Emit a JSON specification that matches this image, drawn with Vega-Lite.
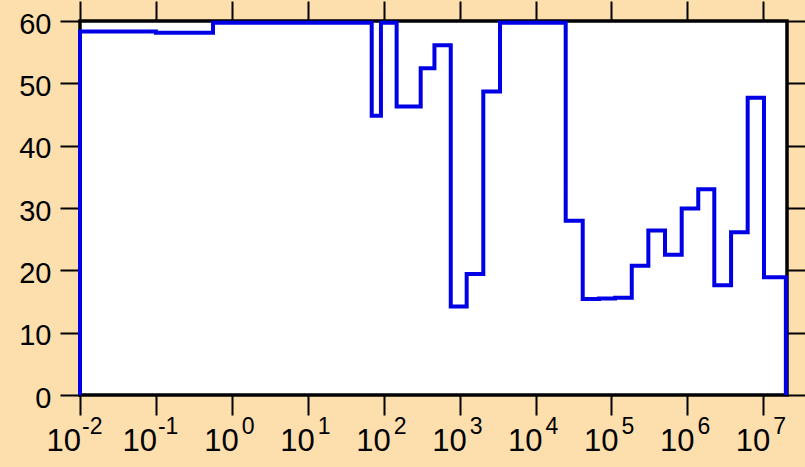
{
  "$schema": "https://vega.github.io/schema/vega-lite/v6.json",
  "autosize": "none",
  "width": 707,
  "height": 374,
  "padding": {"left": 80, "top": 21, "right": 18, "bottom": 72},
  "background": "#FDDEAD",
  "config": {
    "view": {"stroke": "black", "strokeWidth": 3.5, "fill": "white"},
    "axis": {"grid": false, "domain": false, "tickColor": "black", "tickWidth": 2, "tickSize": 20, "labelColor": "black", "labelFont": "Liberation Sans", "title": null},
    "text": {"font": "Liberation Sans", "color": "black", "baseline": "alphabetic"}
  },
  "datasets": {
    "curve": [
      {"x": 0.01, "y": 0},
      {"x": 0.01, "y": 58.3},
      {"x": 0.1, "y": 58.1},
      {"x": 0.565, "y": 59.7},
      {"x": 69.5, "y": 44.8},
      {"x": 92, "y": 59.7},
      {"x": 148, "y": 46.3},
      {"x": 307, "y": 52.4},
      {"x": 466, "y": 56.1},
      {"x": 764, "y": 14.2},
      {"x": 1238, "y": 19.4},
      {"x": 2050, "y": 48.7},
      {"x": 3404, "y": 59.7},
      {"x": 24950, "y": 27.95},
      {"x": 41800, "y": 15.4},
      {"x": 68600, "y": 15.5},
      {"x": 111500, "y": 15.6},
      {"x": 185000, "y": 20.75},
      {"x": 306000, "y": 26.4},
      {"x": 507000, "y": 22.5},
      {"x": 841000, "y": 29.9},
      {"x": 1390000, "y": 33.0},
      {"x": 2260000, "y": 17.6},
      {"x": 3760000, "y": 26.1},
      {"x": 6220000, "y": 47.7},
      {"x": 10200000, "y": 18.9},
      {"x": 19800000, "y": 0}
    ],
    "ticklabels": [
      {"t": 0.01, "base": "10", "e": "-2"},
      {"t": 0.1, "base": "10", "e": "-1"},
      {"t": 1, "base": "10", "e": "0"},
      {"t": 10, "base": "10", "e": "1"},
      {"t": 100, "base": "10", "e": "2"},
      {"t": 1000, "base": "10", "e": "3"},
      {"t": 10000, "base": "10", "e": "4"},
      {"t": 100000, "base": "10", "e": "5"},
      {"t": 1000000, "base": "10", "e": "6"},
      {"t": 10000000, "base": "10", "e": "7"}
    ]
  },
  "layer": [
    {
      "data": {"name": "curve"},
      "mark": {"type": "line", "interpolate": "step-after", "color": "#0000E6", "strokeWidth": 4, "strokeJoin": "miter", "clip": false},
      "encoding": {
        "x": {
          "field": "x", "type": "quantitative",
          "scale": {"type": "log", "domain": [0.01, 20500000], "nice": false},
          "axis": {
            "orient": "bottom",
            "values": [0.01, 0.1, 1, 10, 100, 1000, 10000, 100000, 1000000, 10000000],
            "labels": false
          }
        },
        "y": {
          "field": "y", "type": "quantitative",
          "scale": {"domain": [0, 60], "nice": false},
          "axis": {"orient": "left", "values": [0, 10, 20, 30, 40, 50, 60], "labelFontSize": 29, "labelPadding": 9, "labelOffset": 3, "labelFlush": false}
        }
      }
    },
    {
      "data": {"name": "curve"},
      "mark": {"type": "rule", "opacity": 0},
      "encoding": {
        "x": {"field": "x", "type": "quantitative", "axis": {"orient": "top", "values": [0.01, 0.1, 1, 10, 100, 1000, 10000, 100000, 1000000, 10000000], "labels": false}},
        "y": {"field": "y", "type": "quantitative", "axis": {"orient": "right", "values": [0, 10, 20, 30, 40, 50, 60], "labels": false}}
      }
    },
    {
      "data": {"name": "ticklabels"},
      "transform": [{"filter": "datum.t < 0.5"}],
      "mark": {"type": "text", "align": "right", "dx": 1, "dy": 56, "fontSize": 31, "clip": false},
      "encoding": {
        "x": {"field": "t", "type": "quantitative", "axis": null},
        "y": {"datum": 0, "type": "quantitative", "axis": null},
        "text": {"field": "base"}
      }
    },
    {
      "data": {"name": "ticklabels"},
      "transform": [{"filter": "datum.t > 0.5"}],
      "mark": {"type": "text", "align": "right", "dx": 7, "dy": 56, "fontSize": 31, "clip": false},
      "encoding": {
        "x": {"field": "t", "type": "quantitative", "axis": null},
        "y": {"datum": 0, "type": "quantitative", "axis": null},
        "text": {"field": "base"}
      }
    },
    {
      "data": {"name": "ticklabels"},
      "transform": [{"filter": "datum.t < 0.5"}],
      "mark": {"type": "text", "align": "left", "dx": 2, "dy": 39, "fontSize": 23, "clip": false},
      "encoding": {
        "x": {"field": "t", "type": "quantitative", "axis": null},
        "y": {"datum": 0, "type": "quantitative", "axis": null},
        "text": {"field": "e"}
      }
    },
    {
      "data": {"name": "ticklabels"},
      "transform": [{"filter": "datum.t > 0.5"}],
      "mark": {"type": "text", "align": "left", "dx": 10, "dy": 39, "fontSize": 23, "clip": false},
      "encoding": {
        "x": {"field": "t", "type": "quantitative", "axis": null},
        "y": {"datum": 0, "type": "quantitative", "axis": null},
        "text": {"field": "e"}
      }
    }
  ],
  "resolve": {"axis": {"x": "independent", "y": "independent"}}
}
